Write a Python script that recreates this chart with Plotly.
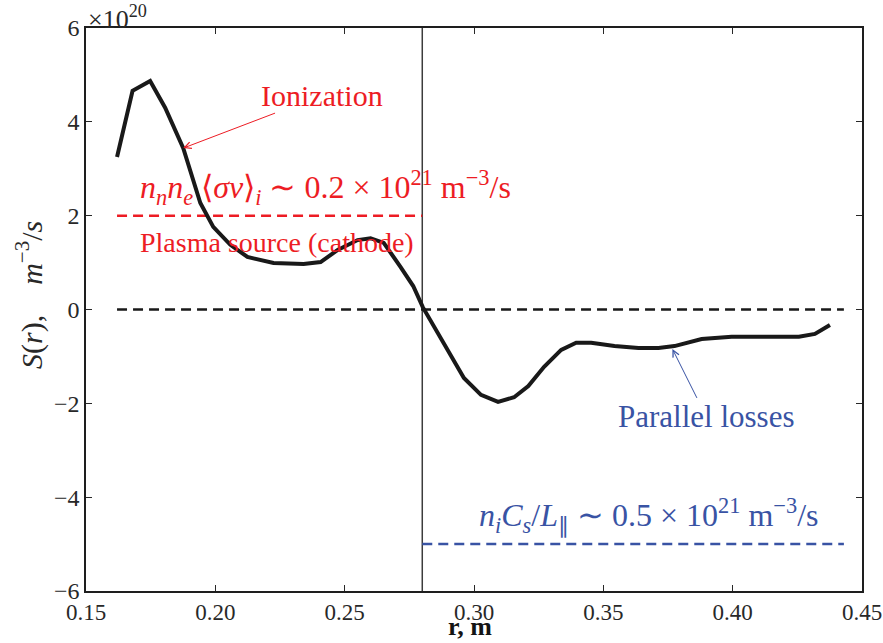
import plotly.graph_objects as go

# ---- data ----
r = [0.1620, 0.1680, 0.1748, 0.1806, 0.1876, 0.1903, 0.1942, 0.1992, 0.2058, 0.2124,
     0.2225, 0.2341, 0.2407, 0.2473, 0.2550, 0.2600, 0.2651, 0.2717, 0.2765, 0.2802,
     0.2860, 0.2910, 0.2961, 0.3027, 0.3093, 0.3155, 0.3210, 0.3271, 0.3337, 0.3395,
     0.3453, 0.3543, 0.3636, 0.3713, 0.3775, 0.3880, 0.3996, 0.4124, 0.4256, 0.4318,
     0.4376]
S = [3.25, 4.66, 4.87, 4.30, 3.44, 2.98, 2.27, 1.76, 1.38, 1.12,
     0.99, 0.97, 1.01, 1.27, 1.48, 1.52, 1.42, 0.90, 0.50, 0.05,
     -0.50, -1.01, -1.46, -1.82, -1.97, -1.87, -1.63, -1.22, -0.86, -0.71,
     -0.71, -0.78, -0.82, -0.82, -0.78, -0.63, -0.58, -0.58, -0.58, -0.52,
     -0.33]
S_scale_label = "×10<sup>20</sup>"

zero_x = [0.162, 0.443]
zero_y = [0, 0]
ion_x = [0.162, 0.280]
ion_y = [2, 2]
par_x = [0.280, 0.443]
par_y = [-5, -5]
sep_x = [0.280, 0.280]
sep_y = [-6, 6]

x_ticks = [0.15, 0.20, 0.25, 0.30, 0.35, 0.40, 0.45]
x_tick_labels = ["0.15", "0.20", "0.25", "0.30", "0.35", "0.40", "0.45"]
y_ticks = [-6, -4, -2, 0, 2, 4, 6]
y_tick_labels = ["−6", "−4", "−2", "0", "2", "4", "6"]

RED = "rgb(237,28,36)"
BLUE = "rgb(57,83,164)"
FONT = "Liberation Serif"
TXT = "rgb(40,40,40)"

fig = go.Figure()
fig.add_trace(go.Scatter(x=sep_x, y=sep_y, mode="lines",
                         line=dict(color="rgb(60,60,60)", width=1.5), showlegend=False))
fig.add_trace(go.Scatter(x=zero_x, y=zero_y, mode="lines",
                         line=dict(color="rgb(25,25,25)", width=2.5, dash="10px,6px"), showlegend=False))
fig.add_trace(go.Scatter(x=ion_x, y=ion_y, mode="lines",
                         line=dict(color=RED, width=2.5, dash="10px,6px"), showlegend=False))
fig.add_trace(go.Scatter(x=par_x, y=par_y, mode="lines",
                         line=dict(color=BLUE, width=2.5, dash="10px,6px"), showlegend=False))
fig.add_trace(go.Scatter(x=r, y=S, mode="lines",
                         line=dict(color="rgb(25,25,25)", width=4), showlegend=False))

ann = []
ann.append(dict(x=0.1876, y=3.44, xref="x", yref="y", text="Ionization",
                showarrow=True, ax=139, ay=-53, arrowhead=5, arrowsize=1.3, arrowwidth=1,
                arrowcolor=RED, font=dict(family=FONT, size=30, color=RED)))
ann.append(dict(x=0.1702, y=2.59, xref="x", yref="y", xanchor="left", yanchor="middle",
                text="<i>n<sub>n</sub>n<sub>e</sub></i> ⟨<i>σv</i>⟩<sub><i>i</i></sub> ∼ 0.2 × 10<sup>21</sup> m<sup>−3</sup>/s",
                showarrow=False, font=dict(family=FONT, size=32, color=RED)))
ann.append(dict(x=0.224, y=1.42, xref="x", yref="y", text="Plasma source (cathode)",
                showarrow=False, font=dict(family=FONT, size=28, color=RED)))
ann.append(dict(x=0.3767, y=-0.84, xref="x", yref="y", text="Parallel losses",
                showarrow=True, ax=34, ay=68, arrowhead=5, arrowsize=1.3, arrowwidth=1,
                arrowcolor=BLUE, font=dict(family=FONT, size=31, color=BLUE)))
ann.append(dict(x=0.3674, y=-4.38, xref="x", yref="y",
                text="<i>n<sub>i</sub>C<sub>s</sub></i>/<i>L</i><sub>∥</sub> ∼ 0.5 × 10<sup>21</sup> m<sup>−3</sup>/s",
                showarrow=False, font=dict(family=FONT, size=32, color=BLUE)))
ann.append(dict(x=0, y=1, xref="paper", yref="paper", xanchor="left", yanchor="bottom",
                text=S_scale_label, showarrow=False, yshift=-8,
                font=dict(family=FONT, size=26, color=TXT)))
ann.append(dict(x=0.495, y=0, xref="paper", yref="paper", xanchor="center", yanchor="bottom",
                text="<b>r, m</b>", showarrow=False, yshift=-52,
                font=dict(family=FONT, size=26, color="rgb(20,20,20)")))
ann.append(dict(x=-0.072, y=0.526, xref="paper", yref="paper", xanchor="center", yanchor="middle",
                text="<i>S</i>(<i>r</i>),    <i>m</i><sup>−3</sup>/<i>s</i>", textangle=-90,
                showarrow=False, font=dict(family=FONT, size=30, color=TXT)))

axis_common = dict(ticks="inside", ticklen=6, tickcolor=TXT, mirror="ticks",
                   showline=True, linecolor="rgb(30,30,30)", linewidth=1.5, showgrid=False,
                   zeroline=False, automargin=False)

fig.update_layout(
    width=883, height=643,
    margin=dict(l=86, r=21, t=28, b=52),
    paper_bgcolor="white", plot_bgcolor="white",
    font=dict(family=FONT, size=20, color=TXT),
    annotations=ann,
    xaxis=dict(range=[0.15, 0.45], tickvals=x_ticks, ticktext=x_tick_labels, ticklabelstandoff=0,
               tickfont=dict(size=23, color=TXT), **axis_common),
    yaxis=dict(range=[-6, 6], tickvals=y_ticks, ticktext=y_tick_labels,
               tickfont=dict(size=24, color=TXT), **axis_common),
)

fig.write_html("out.html", config={"displayModeBar": False},
               post_script="document.body.style.margin='0';document.body.style.padding='0';"
                           "document.body.style.overflow='hidden';")
